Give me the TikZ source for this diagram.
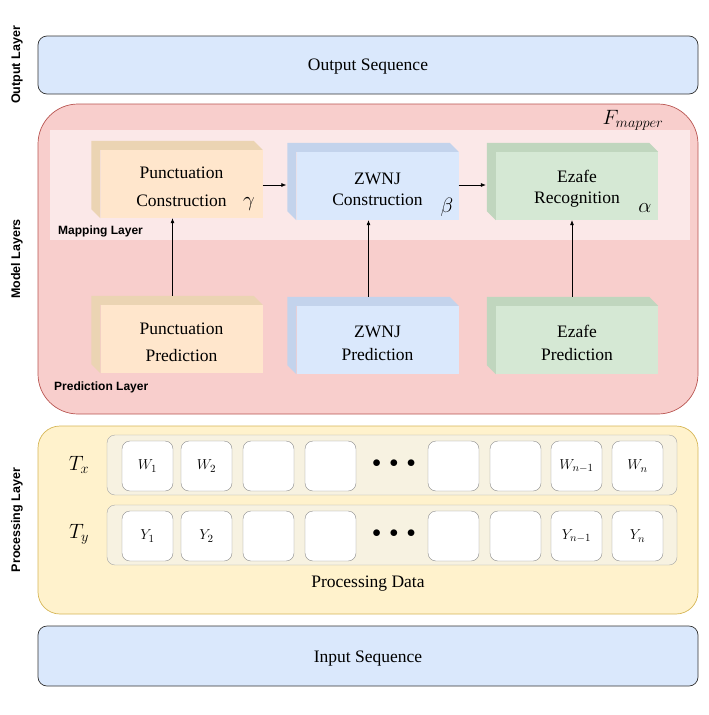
\documentclass[tikz,border=0pt]{standalone}
\usepackage{amsmath}
\usepackage{fontspec}
\setmainfont{Liberation Serif}
\newfontfamily\labelfont{Liberation Sans}
\usetikzlibrary{arrows.meta}
\definecolor{blfront}{HTML}{DAE8FC}
\definecolor{blside}{HTML}{C3D3EC}
\definecolor{orfront}{HTML}{FFE6CC}
\definecolor{orside}{HTML}{EBD4B3}
\definecolor{grfront}{HTML}{D5E8D4}
\definecolor{grside}{HTML}{C0D6BE}
\definecolor{redfill}{HTML}{F8CECC}
\definecolor{redline}{HTML}{B85450}
\definecolor{yelfill}{HTML}{FFF2CC}
\definecolor{yelline}{HTML}{D6B656}
\definecolor{rowfill}{HTML}{F7F2E1}

\begin{document}
\begin{tikzpicture}[x=1pt,y=-1pt,
        layer/.style={draw=black!80, line width=0.7pt, minimum width=660pt, inner sep=0pt},
        front/.style={minimum width=162pt, minimum height=68pt, inner sep=0pt, align=center,
                font=\fontsize{17.5}{21}\selectfont},
        row/.style={draw=black!35, fill=rowfill, rounded corners=8pt, minimum width=570pt, minimum height=60pt},
        cell/.style={draw=black!45, fill=white, rounded corners=8pt, minimum width=51pt, minimum height=50pt,
                inner sep=0pt, font=\fontsize{15}{17}\selectfont},
        tag/.style={font=\labelfont\bfseries\fontsize{12}{14}\selectfont, inner sep=0pt},
        side/.style={tag, rotate=90, font=\labelfont\bfseries\fontsize{12.5}{14}\selectfont},
        txt/.style={font=\fontsize{17.5}{21}\selectfont},
        greek/.style={font=\fontsize{21}{24}\selectfont},
        dots/.style={font=\fontsize{16}{18}\selectfont},
        arr/.style={-{Latex[length=5pt,width=4pt]}, line width=0.6pt}]
        \useasboundingbox (0,0) rectangle (709,715);
        % layers
        \node (out) [layer, fill=blfront, rounded corners=9pt, minimum height=58pt] at (368,65) {};
        \node (model) [layer, draw=redline, fill=redfill, rounded corners=40pt, minimum height=310pt] at (368,259) {};
        \node (proc) [layer, draw=yelline, fill=yelfill, rounded corners=22pt, minimum height=188pt] at (368,520) {};
        \node (inp) [layer, fill=blfront, rounded corners=9pt, minimum height=60pt] at (368,656) {};
        \node (outtxt) [txt] at (368,67) {Output Sequence};
        \node (inptxt) [txt] at (368,659) {Input Sequence};
        \node (sout) [side] at (17,65) {Output Layer};
        \node (smodel) [side] at (17,259) {Model Layers};
        \node (sproc) [side] at (17,520) {Processing Layer};
        % mapping band
        \fill[white, opacity=0.55] (50,130) rectangle (690,240);
        \node (fmap) [greek] at (633,120) {$F_{mapper}$};
        \node (mtag) [tag, anchor=west] at (58,231) {Mapping Layer};
        \node (ptag) [tag, anchor=west] at (54,387) {Prediction Layer};
        % cuboids
        \node (pc) [front, fill=orfront] at (181.5,184) {\\[-3pt]Punctuation\\[7pt]Construction};
        \node (zc) [front, fill=blfront] at (377.5,186) {\\[-3pt]ZWNJ\\Construction};
        \node (ec) [front, fill=grfront] at (577,186) {\\[-3pt]Ezafe\\Recognition};
        \node (pp) [front, fill=orfront] at (181.5,339) {\\[-3pt]Punctuation\\[6pt]Prediction};
        \node (zp) [front, fill=blfront] at (377.5,340) {\\[-3pt]ZWNJ\\[2pt]Prediction};
        \node (ep) [front, fill=grfront] at (577,340) {\\[-3pt]Ezafe\\[2pt]Prediction};
        \foreach \n/\c in {pc/orside,zc/blside,ec/grside,pp/orside,zp/blside,ep/grside}
                \fill[\c] (\n.south west) -- ++(-9,-9) |- ([shift={(-9,-9)}]\n.north east)
                        -- (\n.north east) -- (\n.north west) -- cycle;
        \node (gam) [greek] at (249,204) {$\gamma$};
        \node (bet) [greek] at (447,207) {$\beta$};
        \node (alp) [greek] at (645,208) {$\alpha$};
        \draw ([yshift=-1pt]pc.east) edge [arr] ([xshift=-10pt,yshift=-1pt]zc.west |- pc.east);
        \draw ([yshift=1pt]zc.east) edge [arr] ([xshift=-10pt,yshift=1pt]ec.west);
        \draw ([shift={(-9,-9)}]pp.north) edge [arr] ([xshift=-9pt]pc.south);
        \draw ([shift={(-9,-9)}]zp.north) edge [arr] ([xshift=-9pt]zc.south);
        \draw ([shift={(-5,-9)}]ep.north) edge [arr] ([xshift=-5pt]ec.south);
        % processing data
        \node (rx) [row] at (392,465) {};
        \node (ry) [row] at (392,535) {};
        \node (tx) [greek] at (79,465) {$T_x$};
        \node (ty) [greek] at (79,534) {$T_y$};
        \foreach \i/\x/\w/\v in {1/147.5/W_1/Y_1, 2/206.5/W_2/Y_2, 3/268.5/{}/{}, 4/330.5/{}/{},
                5/453.5/{}/{}, 6/515.5/{}/{}, 7/576.5/W_{n-1}/Y_{n-1}, 8/637.5/W_n/Y_n} {
                \node (w\i) [cell] at (\x,466) {$\w$};
                \node (y\i) [cell] at (\x,536) {$\v$};
        }
        \node (dx) [dots] at (394,464) {$\bullet\;\bullet\;\bullet$};
        \node (dy) [dots] at (394,534) {$\bullet\;\bullet\;\bullet$};
        \node (pdata) [txt] at (368,584) {Processing Data};
\end{tikzpicture}
\end{document}
